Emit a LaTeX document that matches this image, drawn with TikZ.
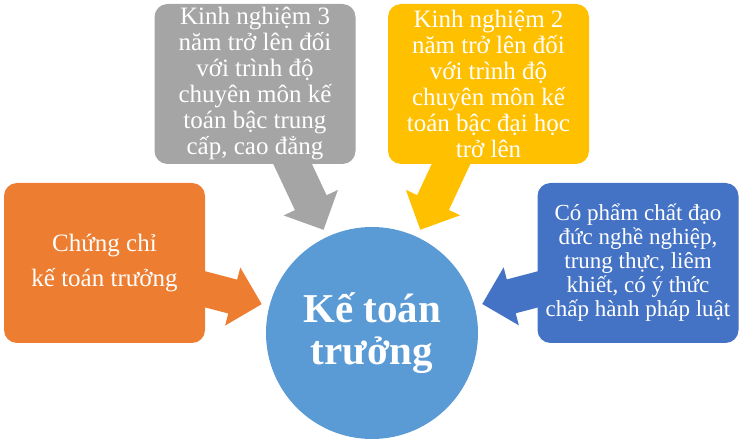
\documentclass[tikz,border=0pt]{standalone}
\usepackage{fontspec}
\setmainfont{Liberation Serif}
\usetikzlibrary{positioning,calc,backgrounds}

\definecolor{accOrange}{HTML}{ED7D31}
\definecolor{accGray}{HTML}{A5A5A5}
\definecolor{accGold}{HTML}{FFC000}
\definecolor{accBlue}{HTML}{4472C4}
\definecolor{hubBlue}{HTML}{5B9BD5}

\begin{document}
\begin{tikzpicture}[
  on grid,
  box/.style={rectangle,rounded corners=13pt,minimum width=201pt,minimum height=160pt,
    inner sep=0pt,align=center,text=white,font=\fontsize{25}{26}\selectfont},
  hub/.style={circle,minimum size=212pt,inner sep=0pt,fill=hubBlue,text=white,
    align=center,font=\fontsize{41}{42}\selectfont\bfseries}
  ]

  \useasboundingbox (0,0) rectangle (745pt,-443pt);

  \node[hub] (ktt) at (372pt,-333pt) {Kế toán\\trưởng};

  \node[box,fill=accOrange,font=\fontsize{25}{35}\selectfont]
    (cchi)  [above left=70pt and 267.5pt of ktt]  {Chứng chỉ\\kế toán trưởng};
  \node[box,fill=accGray]
    (kn_3)  [above left=249pt and 117pt of ktt]   {Kinh nghiệm 3\\năm trở lên đối\\với trình độ\\chuyên môn kế\\toán bậc trung\\cấp, cao đẳng};
  \node[box,fill=accGold]
    (kn_2)  [above right=249pt and 116.5pt of ktt] {Kinh nghiệm 2\\năm trở lên đối\\với trình độ\\chuyên môn kế\\toán bậc đại học\\trở lên};
  \node[box,fill=accBlue,font=\fontsize{23}{24}\selectfont]
    (pchat) [above right=70pt and 266pt of ktt]   {Có phẩm chất đạo\\đức nghề nghiệp,\\trung thực, liêm\\khiết, có ý thức\\chấp hành pháp luật};

  % block arrows, from each box towards the hub
  \begin{scope}[on background layer]
    \foreach \src/\col in {cchi/accOrange,kn_3/accGray,kn_2/accGold,pchat/accBlue} {
      \coordinate (tip) at ($(ktt)!114pt!(\src)$);
      \coordinate (hb)  at ($(tip)!30pt!(\src)$);
      \fill[\col] ($(\src)!17.5pt!90:(tip)$) -- ($(hb)!17.5pt!90:(tip)$)
        -- ($(hb)!30pt!90:(tip)$) -- (tip) -- ($(hb)!30pt!-90:(tip)$)
        -- ($(hb)!17.5pt!-90:(tip)$) -- ($(\src)!17.5pt!-90:(tip)$) -- cycle;
    }
  \end{scope}
\end{tikzpicture}
\end{document}
